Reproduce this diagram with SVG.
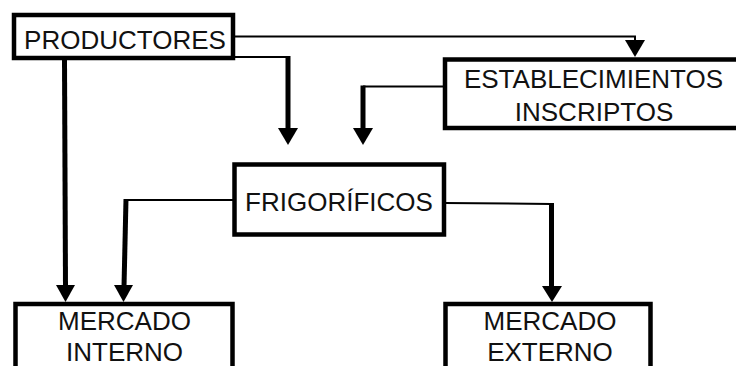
<svg xmlns="http://www.w3.org/2000/svg" width="736" height="366" viewBox="0 0 736 366">
<style>
.box{fill:#fff;stroke:#000;stroke-width:4.5}
.t{font-family:"Liberation Sans",Arial,sans-serif;font-size:26px;fill:#111;text-anchor:middle}
.thin{fill:none;stroke:#000;stroke-width:2}
.thick{fill:none;stroke:#000;stroke-width:5}
.ah{fill:#000}
</style>
<rect width="736" height="366" fill="#fff"/>
<g id="connectors">
<polyline class="thin" points="235,36.5 635,36.5 635,41"/>
<polygon class="ah" points="625,40 645,40 635,57"/>
<polyline class="thin" points="235,57 288,57"/>
<line class="thick" x1="288" y1="56" x2="288" y2="130"/>
<polygon class="ah" points="278,128 298,128 288,145"/>
<polyline class="thin" points="445,86.5 363,86.5"/>
<line class="thick" x1="363" y1="85.5" x2="363" y2="130"/>
<polygon class="ah" points="353,128 373,128 363,145"/>
<line class="thick" x1="64.5" y1="60" x2="65.5" y2="287"/>
<polygon class="ah" points="56,285 75,285 65.5,302"/>
<polyline class="thin" points="234,200 126,200"/>
<line class="thick" x1="126" y1="199" x2="124" y2="287"/>
<polygon class="ah" points="114,285 133,285 123.5,302"/>
<polyline class="thin" points="444,203 551,204"/>
<line class="thick" x1="551.5" y1="203" x2="551.5" y2="288"/>
<polygon class="ah" points="542,286 562,286 552,302"/>
</g>
<g id="productores">
<rect class="box" x="14" y="15" width="219" height="43"/>
<text class="t" x="125" y="49">PRODUCTORES</text>
</g>
<g id="establecimientos">
<rect class="box" x="445" y="59.5" width="300" height="68.5"/>
<text class="t" x="593.5" y="88">ESTABLECIMIENTOS</text>
<text class="t" x="594" y="120.5">INSCRIPTOS</text>
</g>
<g id="frigorificos">
<rect class="box" x="234.5" y="164.5" width="209.5" height="70"/>
<text class="t" x="339" y="211">FRIGORÍFICOS</text>
</g>
<g id="mercado-interno">
<rect class="box" x="15.5" y="304" width="217" height="100"/>
<text class="t" x="124.5" y="330">MERCADO</text>
<text class="t" x="124.5" y="361">INTERNO</text>
</g>
<g id="mercado-externo">
<rect class="box" x="445.5" y="304" width="205" height="100"/>
<text class="t" x="550" y="330">MERCADO</text>
<text class="t" x="550" y="361">EXTERNO</text>
</g>
</svg>
